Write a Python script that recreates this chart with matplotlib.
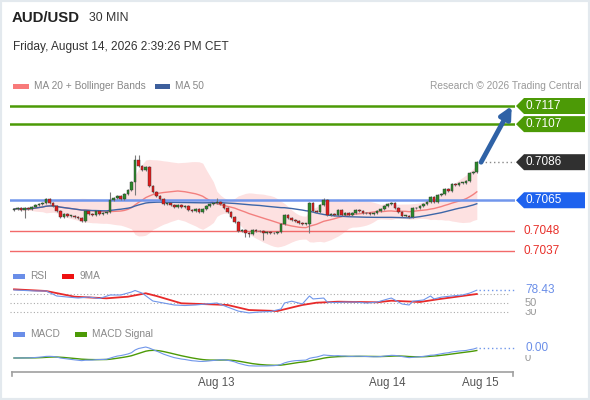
import numpy as np
import pandas as pd
import matplotlib
matplotlib.use("Agg")
import matplotlib.pyplot as plt
from matplotlib.patches import Polygon, Rectangle
from matplotlib import transforms

plt.rcParams['font.family'] = ['Liberation Sans', 'DejaVu Sans']

# ---------------- data ----------------
closes = [0.70601, 0.70607, 0.70596, 0.70607, 0.70601, 0.70613, 0.70624, 0.70629, 0.70635, 0.70657,
          0.70635, 0.70618, 0.70590, 0.70557, 0.70574, 0.70563, 0.70563, 0.70557, 0.70552, 0.70535,
          0.70590, 0.70574, 0.70568, 0.70590, 0.70574, 0.70579, 0.70585, 0.70651, 0.70662, 0.70673,
          0.70657, 0.70684, 0.70706, 0.70750, 0.70872, 0.70839, 0.70817, 0.70833, 0.70728, 0.70695,
          0.70673, 0.70657, 0.70629, 0.70635, 0.70624, 0.70613, 0.70624, 0.70613, 0.70618, 0.70596,
          0.70590, 0.70601, 0.70585, 0.70601, 0.70618, 0.70629, 0.70635, 0.70640, 0.70629, 0.70607,
          0.70585, 0.70557, 0.70530, 0.70480, 0.70486, 0.70469, 0.70463, 0.70486, 0.70480, 0.70480,
          0.70469, 0.70475, 0.70469, 0.70469, 0.70475, 0.70519, 0.70568, 0.70552, 0.70541, 0.70535,
          0.70524, 0.70519, 0.70519, 0.70635, 0.70590, 0.70585, 0.70624, 0.70651, 0.70568, 0.70574,
          0.70568, 0.70596, 0.70568, 0.70579, 0.70568, 0.70579, 0.70596, 0.70590, 0.70579, 0.70579,
          0.70574, 0.70579, 0.70590, 0.70601, 0.70618, 0.70629, 0.70635, 0.70607, 0.70585, 0.70563,
          0.70563, 0.70557, 0.70607, 0.70607, 0.70618, 0.70629, 0.70640, 0.70668, 0.70640, 0.70679,
          0.70684, 0.70712, 0.70701, 0.70739, 0.70734, 0.70745, 0.70745, 0.70756, 0.70801, 0.70806,
          0.70860]
first_open = 0.70596
high_spikes = {27: 0.70695, 34: 0.70900, 35: 0.70900, 57: 0.70662, 87: 0.70662}
low_spikes = {3: 0.70552, 34: 0.70679, 65: 0.70447, 66: 0.70447, 70: 0.70431, 83: 0.70469}

resistances = [0.7117, 0.7107]
last_price = 0.7086
pivot = 0.7065
supports = [0.7048, 0.7037]

rsi_idx = [0, 3, 6, 9, 12, 15, 18, 21, 24, 27, 30, 33, 34, 36, 39, 42, 45, 48, 51, 54,
           57, 60, 63, 66, 69, 72, 75, 76, 78, 81, 83, 84, 87, 88, 90, 93, 96, 99, 102, 105,
           106, 109, 111, 112, 115, 117, 118, 120, 123, 126, 128, 130]
rsi_val = [78.9, 77.8, 76.7, 76.7, 65.6, 63.3, 61.1, 63.3, 60.0, 67.8, 67.8, 74.4, 77.8, 72.0, 54.4, 50.0, 45.6, 44.4, 45.6, 47.8,
           50.0, 41.0, 32.0, 28.0, 30.0, 31.0, 36.7, 50.0, 54.0, 47.8, 65.6, 59.0, 61.0, 52.0, 51.0, 52.0, 52.0, 50.0, 52.0, 59.0,
           61.0, 47.8, 45.6, 54.0, 56.7, 65.6, 59.0, 63.0, 65.6, 67.8, 72.0, 78.43]
rsi_ma_idx = [0, 9, 17, 26, 32, 37, 40, 47, 55, 60, 66, 74, 81, 85, 91, 102, 106, 114, 119, 130]
rsi_ma_val = [80.4, 76.7, 64.0, 60.4, 64.0, 71.6, 65.6, 49.3, 47.1, 45.6, 34.4, 32.2, 45.6, 50.7, 52.9, 51.6, 55.1, 52.2, 58.2, 70.0]
rsi_levels = [70, 50, 30]

tick_pos = [56.7, 104.8, 130.9]
tick_labels = ["Aug 13", "Aug 14", "Aug 15"]

# ---------------- figure ----------------
W, H = 590, 400
fig = plt.figure(figsize=(W / 100, H / 100), dpi=100)
fig.patch.set_facecolor('white')

def fx(px):
    return px / W

def fy(py):
    return 1 - py / H

XL, XR = 10, 515
x0_px, step_px = 14, 3.56
xlim = ((XL - x0_px) / step_px, (XR - x0_px) / step_px)

def px_ax(top, bottom):
    return [fx(XL), fy(bottom), fx(XR) - fx(XL), (bottom - top) / H]

ax = fig.add_axes(px_ax(95, 258))
ax_rsi = fig.add_axes(px_ax(283, 318))
ax_macd = fig.add_axes(px_ax(338, 372))
for a in (ax, ax_rsi, ax_macd):
    a.set_xlim(*xlim)
    a.set_facecolor('none')
    for s in a.spines.values():
        s.set_visible(False)
    a.set_xticks([])
    a.set_yticks([])

# price scale: 0.7117 at y=106px, 0.7037 at y=251px
ppu = (251 - 106) / (0.7117 - 0.7037)
ax.set_ylim(0.7117 - (258 - 106) / ppu, 0.7117 + (106 - 95) / ppu)

c = pd.Series(closes)
n = len(c)
idx = np.arange(n)
o = c.shift(1).fillna(first_open)
ma20 = c.rolling(20, min_periods=1).mean()
sd20 = c.rolling(20, min_periods=2).std(ddof=0).fillna(0)
upper = ma20 + 2 * sd20
lower = ma20 - 2 * sd20
ma50 = c.rolling(50, min_periods=1).mean()

ax.fill_between(idx, lower, upper, color='#fde1e1', lw=0, zorder=1)
ax.plot(idx, ma20, color='#f3807f', lw=1.0, zorder=2)
ax.plot(idx, ma50, color='#3d66a8', lw=1.0, zorder=2)

# level lines
for r in resistances:
    ax.axhline(r, color='#4c9a06', lw=1.8, zorder=3)
ax.axhline(pivot, color='#7196ec', lw=1.8, zorder=3)
for s_ in supports:
    ax.axhline(s_, color='#f26a6a', lw=1.0, zorder=3)

# candles
wick = 0.00006
body_top = np.maximum(o, c)
body_bot = np.minimum(o, c)
hi = np.array([high_spikes.get(i, body_top[i] + wick) for i in range(n)])
lo = np.array([low_spikes.get(i, body_bot[i] - wick) for i in range(n)])
ax.vlines(idx, lo, hi, color='#7a7a7a', lw=0.8, zorder=4)
colors = np.where(c >= o, '#2b8a2b', '#e21c1c')
heights = np.maximum(body_top - body_bot, 0.00003)
ax.bar(idx, heights, bottom=body_bot, width=0.75, color=colors,
       edgecolor='#333333', linewidth=0.3, zorder=5)

# dotted last price
ax.plot([n - 1 + 1.2, xlim[1]], [last_price, last_price], color='#888888', lw=1.0,
        ls=(0, (1, 2)), zorder=3)

# arrow
ax.annotate('', xy=(n - 1 + 9.8, resistances[0]), xytext=(n - 1 + 1.2, last_price),
            arrowprops=dict(arrowstyle='-|>', color='#2f62a6', lw=3.5, mutation_scale=17,
                            shrinkA=0, shrinkB=0), annotation_clip=False, zorder=6)

# tags
blend = transforms.blended_transform_factory(transforms.IdentityTransform(), ax.transData)
hh = 8 / ppu

def tag(yv, text, color):
    pts = [(516, yv), (524, yv + hh), (585, yv + hh), (585, yv - hh), (524, yv - hh)]
    poly = Polygon(pts, closed=True, facecolor=color, edgecolor='none',
                   transform=blend, clip_on=False, zorder=7)
    ax.add_patch(poly)
    ax.text(525, yv, text, transform=blend, color='white', fontsize=8.5,
            va='center', ha='left', clip_on=False, zorder=8)

tag(resistances[0], f"{resistances[0]:.4f}", '#4c9a06')
tag(resistances[1], f"{resistances[1]:.4f}", '#4c9a06')
tag(last_price, f"{last_price:.4f}", '#303030')
tag(pivot, f"{pivot:.4f}", '#1e62ee')
for s_ in supports:
    ax.text(524, s_, f"{s_:.4f}", transform=blend, color='#e8302a', fontsize=8.5,
            va='center', ha='left', clip_on=False)

# ---------------- RSI ----------------
rppu = 9 / 20.0
ax_rsi.set_ylim(70 - (318 - 294) / rppu, 70 + (294 - 283) / rppu)
for lv in rsi_levels:
    ax_rsi.axhline(lv, color='#aaaaaa', lw=0.8, ls=(0, (1, 2)), xmax=0.99)
ax_rsi.plot(rsi_ma_idx, rsi_ma_val, color='#e82a2a', lw=1.3, zorder=3)
ax_rsi.plot(rsi_idx, rsi_val, color='#7096ea', lw=0.8, zorder=4)
ax_rsi.plot([rsi_idx[-1] + 0.5, xlim[1]], [rsi_val[-1]] * 2, color='#7096ea', lw=1.0,
            ls=(0, (1, 2)))
bl_r = transforms.blended_transform_factory(transforms.IdentityTransform(), ax_rsi.transData)
for lv in [30, 50]:
    ax_rsi.text(525, lv, str(lv), transform=bl_r, color='#999999', fontsize=8.0, va='center',
                ha='left', clip_on=False,
                bbox=dict(boxstyle='square,pad=0.05', fc='white', ec='none'))
ax_rsi.text(525, rsi_val[-1], f"{rsi_val[-1]:.2f}", transform=bl_r, color='#6a8ee8',
            fontsize=8.5, va='center', ha='left', clip_on=False,
            bbox=dict(boxstyle='square,pad=0.05', fc='white', ec='none'))

# ---------------- MACD ----------------
ema12 = c.ewm(span=12, adjust=False).mean()
ema26 = c.ewm(span=26, adjust=False).mean()
macd = ema12 - ema26
signal = macd.ewm(span=9, adjust=False).mean()
k = 11 / macd.abs().max()
ax_macd.set_ylim(-(372 - 358) / k, (358 - 338) / k)
ax_macd.plot(idx, signal, color='#4c9a06', lw=1.0, zorder=3)
ax_macd.plot(idx, macd, color='#7096ea', lw=0.8, zorder=4)
ax_macd.plot([n - 1 + 0.5, xlim[1]], [macd.iloc[-1]] * 2, color='#7096ea', lw=1.0,
             ls=(0, (1, 2)))
bl_m = transforms.blended_transform_factory(transforms.IdentityTransform(), ax_macd.transData)
ax_macd.text(525, 0, "0", transform=bl_m, color='#999999', fontsize=8.0, va='center',
             ha='left', clip_on=False, bbox=dict(boxstyle='square,pad=0.05', fc='white', ec='none'))
ax_macd.text(525, macd.iloc[-1], f"{macd.iloc[-1]:.2f}", transform=bl_m, color='#6a8ee8',
             fontsize=8.5, va='center', ha='left', clip_on=False,
             bbox=dict(boxstyle='square,pad=0.05', fc='white', ec='none'))

# x axis
ax_macd.plot([2 / 505, 503 / 505], [0, 0], transform=ax_macd.transAxes, color='#a0a0a0',
             lw=1.2, clip_on=False)
for xe in (2 / 505, 503 / 505):
    ax_macd.plot([xe, xe], [0, -0.13], transform=ax_macd.transAxes, color='#a0a0a0',
                 lw=1.2, clip_on=False)
for tp, tl in zip(tick_pos, tick_labels):
    ax_macd.text(tp, -0.33, tl, transform=transforms.blended_transform_factory(
        ax_macd.transData, ax_macd.transAxes), color='#555555', fontsize=8.3,
        ha='center', va='center', clip_on=False)

# ---------------- header / legends ----------------
fig.text(fx(12), fy(18), "AUD/USD", fontsize=10.8, fontweight='bold', color='#222222',
         va='center', ha='left')
fig.text(fx(89), fy(18), "30 MIN", fontsize=8.8, color='#333333', va='center', ha='left')
fig.text(fx(13), fy(47), "Friday, August 14, 2026 2:39:26 PM CET", fontsize=8.6,
         color='#333333', va='center', ha='left')

def legend_item(x, y, w, color, label):
    fig.add_artist(Rectangle((fx(x), fy(y + 2.5)), w / W, 5 / H, transform=fig.transFigure,
                             facecolor=color, edgecolor='none'))
    fig.text(fx(x + w + 5), fy(y), label, fontsize=7.3, color='#888888', va='center', ha='left')

legend_item(13, 86, 16, '#f87a7a', "MA 20 + Bollinger Bands")
legend_item(155, 86, 15, '#3d5f9c', "MA 50")
fig.text(fx(582), fy(86), "Research \u00a9 2026 Trading Central", fontsize=7.3, color='#999999',
         va='center', ha='right')
legend_item(13, 276, 12, '#6a8ee8', "RSI")
legend_item(62, 276, 12, '#ee1111', "9MA")
legend_item(13, 334, 12, '#6a8ee8', "MACD")
legend_item(75, 334, 12, '#4c9a06', "MACD Signal")

fig.add_artist(Rectangle((0, 0), 1, 1, transform=fig.transFigure, fill=False,
                         edgecolor='#e3e9ee', lw=3))

fig.savefig("out.png", dpi=100, facecolor='white')
